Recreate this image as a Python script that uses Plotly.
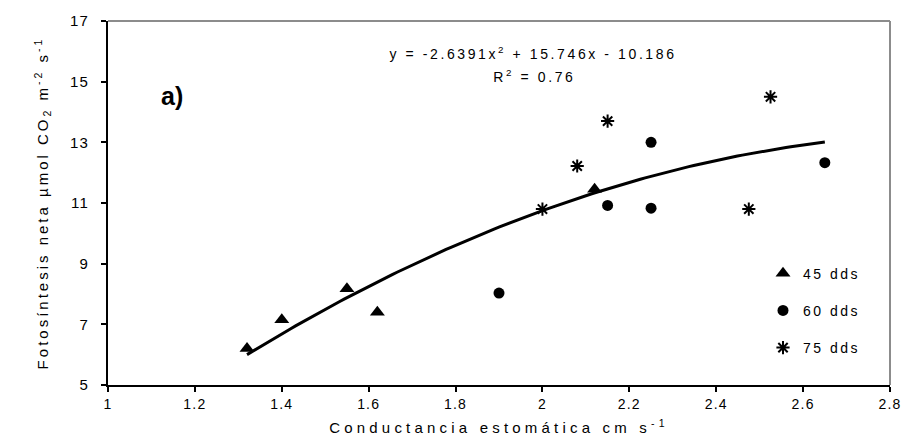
import numpy as np
import plotly.graph_objects as go

# Conductancia estomática (cm s-1) y fotosíntesis neta por fecha de muestreo
g45 = [1.32, 1.40, 1.55, 1.62, 2.12]
a45 = [6.2, 7.15, 8.17, 7.4, 11.45]

g60 = [1.90, 2.15, 2.25, 2.25, 2.65]
a60 = [8.03, 10.92, 13.0, 10.83, 12.33]

g75 = [2.00, 2.08, 2.15, 2.475, 2.525]
a75 = [10.8, 12.22, 13.7, 10.8, 14.5]

series_names = ["45 dds", "60 dds", "75 dds"]

# Ajuste polinómico de segundo grado: y = c2*x^2 + c1*x + c0
fit_coefs = [-2.6391, 15.746, -10.186]
fit_r2 = 0.76
fit_xmin, fit_xmax = 1.32, 2.65

x_ticks = [1, 1.2, 1.4, 1.6, 1.8, 2, 2.2, 2.4, 2.6, 2.8]
y_ticks = [5, 7, 9, 11, 13, 15, 17]

FONT = "Liberation Sans, Arial, sans-serif"

fit_x = np.linspace(fit_xmin, fit_xmax, 120)
fit_y = fit_coefs[0] * fit_x**2 + fit_coefs[1] * fit_x + fit_coefs[2]

fig = go.Figure()

fig.add_trace(go.Scatter(
    x=fit_x, y=fit_y, mode="lines",
    line=dict(color="black", width=3),
    showlegend=False, hoverinfo="skip",
))

fig.add_trace(go.Scatter(
    x=g45, y=a45, mode="markers", name=series_names[0], legendgroup="a",
    marker=dict(symbol="triangle-up", size=13, color="black"),
))
fig.add_trace(go.Scatter(
    x=g60, y=a60, mode="markers", name=series_names[1], legendgroup="b",
    marker=dict(symbol="circle", size=11, color="black"),
))
fig.add_trace(go.Scatter(
    x=g75, y=a75, mode="markers", name=series_names[2], legendgroup="c",
    marker=dict(symbol="asterisk-open", size=11, color="black",
                line=dict(color="black", width=2)),
))

eq_text = (f"y = {fit_coefs[0]}x<sup>2</sup> + {fit_coefs[1]}x - "
           f"{abs(fit_coefs[2])}")
r2_text = f"R<sup>2</sup> = {fit_r2}"

fig.update_layout(
    width=912, height=448,
    margin=dict(l=108, r=16, t=16, b=63),
    paper_bgcolor="white", plot_bgcolor="white",
    font=dict(family=FONT, size=14, color="black"),
    showlegend=True,
    legend=dict(
        x=0.8376, xanchor="left", y=0.35, yanchor="top",
        font=dict(family=FONT, size=14, color="black"),
        bgcolor="rgba(0,0,0,0)", traceorder="grouped",
        tracegroupgap=16, itemwidth=30,
    ),
    xaxis=dict(
        range=[1, 2.8], tickvals=x_ticks, showgrid=False, zeroline=False,
        showline=True, linecolor="black", linewidth=2,
        ticks="outside", ticklen=5, tickwidth=1.5, tickcolor="black",
        tickfont=dict(family=FONT, size=14),
        title=dict(text="Conductancia estomática cm s<sup>-1</sup>",
                   font=dict(family=FONT, size=15), standoff=12),
    ),
    yaxis=dict(
        range=[5, 17], tickvals=y_ticks, showgrid=False, zeroline=False,
        showline=True, linecolor="black", linewidth=2,
        ticks="outside", ticklen=5, tickwidth=1.5, tickcolor="black",
        tickfont=dict(family=FONT, size=15), ticklabelstandoff=9,
        title=dict(text="Fotosíntesis neta µmol CO<sub>2</sub> m<sup>-2</sup> s<sup>-1</sup>",
                   font=dict(family=FONT, size=15), standoff=20),
    ),
    shapes=[
        dict(type="line", xref="paper", yref="paper", x0=0, x1=1, y0=1, y1=1,
             line=dict(color="#8c8c8c", width=2)),
        dict(type="line", xref="paper", yref="paper", x0=1, x1=1, y0=0, y1=1,
             line=dict(color="#8c8c8c", width=2)),
    ],
    annotations=[
        dict(x=1.978, y=15.93, xref="x", yref="y", text=eq_text, showarrow=False,
             font=dict(family=FONT, size=14, color="black")),
        dict(x=1.982, y=15.2, xref="x", yref="y", text=r2_text, showarrow=False,
             font=dict(family=FONT, size=14, color="black")),
        dict(x=1.148, y=14.52, xref="x", yref="y", text="<b>a)</b>", showarrow=False,
             font=dict(family=FONT, size=25, color="black")),
    ],
)

# Espaciado entre letras de los textos del gráfico
spacing_js = """
var gd = document.getElementById('{plot_id}');
function sp(sel, v) { gd.querySelectorAll(sel).forEach(function(t){ t.style.letterSpacing = v; }); }
sp('.xtick text', '1.2px');
sp('.ytick text', '1.2px');
sp('.g-xtitle text', '4.2px');
sp('.g-ytitle text', '3px');
sp('.legendtext', '2.5px');
gd.querySelectorAll('.legend [clip-path]').forEach(function(e){ e.removeAttribute('clip-path'); });
gd.querySelectorAll('.annotation-text').forEach(function(t){
  if (t.textContent.indexOf('a)') !== 0) { t.style.letterSpacing = '2.6px'; }
});
"""

fig.write_html("out.html", post_script=spacing_js)
